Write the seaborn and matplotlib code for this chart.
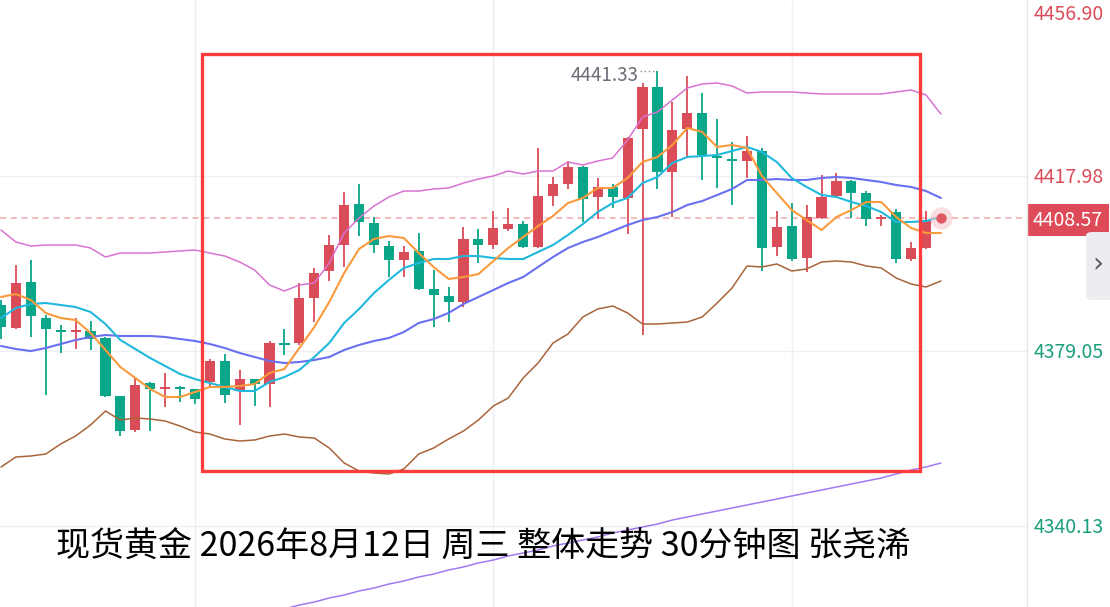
import numpy as np
import pandas as pd
import matplotlib
matplotlib.use("Agg")
import matplotlib.pyplot as plt
import matplotlib.transforms as mtransforms
from matplotlib.patches import Rectangle, FancyBboxPatch
from matplotlib.lines import Line2D
import seaborn as sns

# K线数据 (30分钟) : 开, 高, 低, 收
opens = [4389.29, 4384.17, 4394.40, 4386.39, 4383.72, 4383.28, 4383.50, 4381.95, 4369.04, 4361.48,
         4371.93, 4370.60, 4371.05, 4370.60, 4372.16, 4376.83, 4370.16, 4372.82, 4371.71, 4380.83,
         4380.83, 4390.84, 4396.85, 4402.63, 4411.75, 4407.53, 4402.41, 4399.30, 4401.30, 4392.84,
         4391.29, 4389.95, 4403.97, 4402.63, 4406.19, 4407.30, 4402.19, 4413.53, 4416.20, 4419.98,
         4413.31, 4415.54, 4413.09, 4428.44, 4437.78, 4418.87, 4428.44, 4431.99, 4422.43, 4421.76,
         4421.32, 4423.54, 4402.19, 4406.86, 4399.74, 4408.64, 4413.53, 4416.87, 4414.20, 4408.42,
         4409.97, 4399.52, 4401.96, 4408.19]
highs = [4390.40, 4398.18, 4399.30, 4387.06, 4384.84, 4386.39, 4385.73, 4382.17, 4369.10, 4373.05,
         4372.16, 4374.16, 4371.20, 4370.70, 4377.27, 4378.39, 4374.83, 4372.90, 4381.28, 4383.95,
         4394.18, 4397.52, 4404.86, 4414.42, 4416.20, 4408.86, 4403.52, 4402.41, 4405.30, 4397.07,
         4393.29, 4406.64, 4406.19, 4410.19, 4410.86, 4407.97, 4424.21, 4417.76, 4421.32, 4420.20,
         4417.54, 4416.20, 4426.60, 4438.67, 4441.33, 4434.44, 4440.22, 4436.44, 4430.66, 4425.54,
         4426.88, 4424.21, 4410.19, 4411.98, 4411.53, 4418.20, 4418.65, 4417.00, 4414.64, 4409.31,
         4410.64, 4403.30, 4410.19, 4408.80]
lows = [4381.72, 4384.00, 4382.17, 4369.27, 4378.61, 4379.50, 4379.28, 4368.90, 4360.15, 4361.04,
        4361.26, 4366.60, 4367.71, 4367.26, 4371.27, 4367.49, 4362.59, 4366.82, 4366.60, 4378.16,
        4380.39, 4385.50, 4394.62, 4397.74, 4404.63, 4400.85, 4395.51, 4395.51, 4392.62, 4384.39,
        4385.50, 4388.84, 4398.63, 4401.74, 4405.75, 4401.96, 4402.00, 4411.31, 4415.09, 4407.75,
        4408.42, 4410.86, 4405.08, 4382.61, 4415.09, 4408.86, 4421.99, 4417.09, 4415.31, 4411.53,
        4417.54, 4396.85, 4400.18, 4399.07, 4396.63, 4408.42, 4413.40, 4408.64, 4406.86, 4406.86,
        4398.63, 4399.07, 4401.80, 4408.10]
closes = [4384.39, 4394.18, 4386.84, 4383.95, 4383.28, 4383.50, 4381.72, 4369.04, 4361.26, 4371.49,
          4370.60, 4370.82, 4370.60, 4368.38, 4376.83, 4369.27, 4372.82, 4371.71, 4380.83, 4380.39,
          4390.84, 4396.40, 4402.63, 4411.53, 4407.75, 4402.63, 4399.30, 4401.08, 4392.84, 4391.51,
          4389.95, 4403.97, 4402.63, 4406.41, 4407.30, 4402.19, 4413.53, 4416.20, 4419.98, 4412.86,
          4415.54, 4413.31, 4426.43, 4437.78, 4418.87, 4428.21, 4431.99, 4422.65, 4421.98, 4421.32,
          4423.54, 4401.96, 4406.64, 4399.52, 4408.86, 4413.31, 4416.87, 4414.20, 4408.42, 4408.64,
          4399.52, 4401.96, 4408.19, 4408.57]

# 均线与布林带
ma5 = [4391.07, 4391.73, 4390.40, 4387.51, 4386.39, 4385.95, 4383.06, 4379.28, 4375.50, 4373.05,
       4370.60, 4368.82, 4368.82, 4369.93, 4371.05, 4371.05, 4371.27, 4371.71, 4374.16, 4375.05,
       4379.72, 4384.39, 4389.95, 4396.40, 4401.74, 4403.97, 4404.63, 4404.19, 4400.85, 4397.74,
       4395.07, 4395.51, 4396.18, 4399.07, 4401.96, 4404.41, 4406.86, 4409.08, 4411.97, 4413.09,
       4415.31, 4415.31, 4417.54, 4421.09, 4422.21, 4424.88, 4428.66, 4427.77, 4424.43, 4424.88,
       4424.21, 4417.98, 4414.20, 4410.42, 4408.19, 4405.97, 4408.86, 4410.42, 4412.20, 4412.20,
       4408.86, 4406.41, 4405.30, 4405.30]
ma10 = [4386.39, 4388.62, 4389.51, 4389.73, 4389.29, 4388.84, 4387.73, 4385.06, 4381.50, 4379.50,
        4377.49, 4375.72, 4373.94, 4372.82, 4371.93, 4371.05, 4370.16, 4370.16, 4372.16, 4373.27,
        4374.83, 4377.72, 4380.83, 4385.28, 4388.40, 4391.96, 4394.85, 4397.52, 4398.63, 4399.52,
        4399.52, 4400.18, 4400.18, 4399.74, 4399.52, 4399.52, 4401.08, 4402.63, 4404.86, 4407.30,
        4409.97, 4411.97, 4413.09, 4416.42, 4417.76, 4420.87, 4422.21, 4422.43, 4422.65, 4423.54,
        4424.43, 4423.32, 4421.09, 4417.54, 4415.54, 4413.75, 4413.31, 4412.20, 4411.31, 4409.97,
        4407.75, 4407.75, 4407.97, 4408.86]
ma20 = [4380.17, 4379.50, 4379.05, 4379.72, 4380.61, 4381.50, 4382.17, 4382.61, 4382.39, 4382.39,
        4382.39, 4382.17, 4381.72, 4381.28, 4380.61, 4379.72, 4378.61, 4377.72, 4376.83, 4376.38,
        4376.61, 4377.05, 4377.72, 4379.28, 4380.39, 4381.28, 4381.95, 4383.28, 4385.28, 4386.17,
        4387.51, 4389.51, 4391.07, 4392.62, 4394.18, 4395.51, 4397.74, 4399.96, 4401.96, 4403.30,
        4404.41, 4405.75, 4407.08, 4408.19, 4408.86, 4409.97, 4411.53, 4412.42, 4413.75, 4415.09,
        4417.09, 4417.09, 4417.31, 4417.09, 4417.09, 4417.54, 4417.76, 4417.54, 4417.09, 4416.65,
        4415.98, 4415.54, 4414.64, 4413.09]
boll_up = [4405.97, 4403.30, 4402.41, 4402.63, 4402.63, 4402.63, 4401.96, 4399.96, 4400.85, 4400.85,
           4400.85, 4401.08, 4401.30, 4401.52, 4400.85, 4400.18, 4398.85, 4397.07, 4393.73, 4392.40,
           4393.73, 4394.18, 4398.63, 4405.30, 4408.64, 4411.31, 4413.31, 4414.64, 4414.64, 4415.09,
           4415.31, 4416.42, 4417.31, 4417.98, 4419.09, 4418.42, 4419.09, 4419.09, 4421.09, 4420.43,
           4421.32, 4421.99, 4425.99, 4431.10, 4432.22, 4434.89, 4437.56, 4438.45, 4438.67, 4438.00,
           4436.44, 4436.67, 4436.67, 4436.67, 4436.44, 4436.22, 4436.22, 4436.22, 4436.22, 4436.22,
           4436.67, 4437.11, 4436.00, 4431.77]
boll_dn = [4353.25, 4355.48, 4355.70, 4356.14, 4358.37, 4360.15, 4362.59, 4365.70, 4363.70, 4364.15,
           4363.93, 4363.48, 4362.37, 4361.04, 4360.59, 4359.48, 4359.03, 4359.26, 4360.15, 4360.59,
           4359.92, 4359.70, 4357.48, 4354.14, 4352.36, 4351.92, 4351.69, 4352.81, 4356.14, 4357.48,
           4359.48, 4361.26, 4363.70, 4366.82, 4368.60, 4373.05, 4376.38, 4380.83, 4382.83, 4386.62,
           4388.40, 4389.06, 4387.51, 4385.06, 4385.06, 4385.28, 4385.50, 4386.62, 4389.73, 4393.07,
           4397.96, 4397.74, 4398.41, 4396.85, 4397.30, 4398.85, 4399.07, 4398.85, 4397.96, 4397.52,
           4395.29, 4393.96, 4393.29, 4394.63]
# 长周期均线, 从第19根K线开始可见
ma_long_start = 19
ma_long = [4321.66, 4322.55, 4323.22, 4324.11, 4324.78, 4325.67, 4326.33, 4327.22, 4327.89, 4328.78,
           4329.45, 4330.34, 4331.01, 4331.90, 4332.56, 4333.45, 4334.12, 4334.79, 4335.68, 4336.34,
           4337.01, 4337.68, 4338.57, 4339.24, 4339.90, 4340.57, 4341.46, 4342.13, 4342.80, 4343.46,
           4344.13, 4344.80, 4345.47, 4346.13, 4346.80, 4347.47, 4348.13, 4348.80, 4349.47, 4350.14,
           4350.80, 4351.69, 4352.58, 4353.25, 4354.14]

price_ticks = [4456.90, 4417.98, 4379.05, 4340.13]
last_price = 4408.57
high_mark = 4441.33
high_idx = 44
grid_x = [13, 33, 53]
title = "现货黄金 2026年8月12日 周三 整体走势 30分钟图 张尧浠"

RED = "#db4c59"
GREEN = "#0aa68a"

df = pd.DataFrame({"open": opens, "high": highs, "low": lows, "close": closes,
                   "ma5": ma5, "ma10": ma10, "ma20": ma20,
                   "up": boll_up, "dn": boll_dn})
df["idx"] = np.arange(len(df))

sns.set_style("white")
plt.rcParams["font.family"] = ["Noto Sans CJK SC", "DejaVu Sans"]

fig = plt.figure(figsize=(11.1, 6.07), dpi=100)
W, H = 1110, 607
ax = fig.add_axes([0, 0, 1027 / W, 1])
ax.set_xlim(-0.067, 68.77)
ax.set_ylim(4322.11, 4457.13)

# grille
for p in price_ticks[1:]:
    ax.axhline(p, color="#eeeef3", lw=1.0, zorder=0)
for gx in grid_x:
    ax.axvline(gx, color="#eeeef3", lw=1.0, zorder=0)

# ligne du dernier prix
ax.axhline(last_price, color="#f3a7ae", lw=1.1, ls=(0, (4, 3)), zorder=1)

# bougies
rise = df["close"] >= df["open"]
cols = np.where(rise, RED, GREEN)
ax.vlines(df["idx"], df["low"], df["high"], colors=cols, lw=1.3, zorder=2)
body_lo = np.minimum(df["open"], df["close"])
body_h = np.maximum((df["close"] - df["open"]).abs(), 0.35)
ax.bar(df["idx"], body_h, bottom=body_lo, width=0.68, color=cols, lw=0, zorder=2)

# moyennes mobiles et bandes
line_specs = [("up", "#d973d1", 1.1), ("dn", "#a8643a", 1.1),
              ("ma20", "#6a70f0", 1.5), ("ma10", "#20b8dc", 1.5), ("ma5", "#fb9a3d", 1.5)]
for col, c, lw in line_specs:
    sns.lineplot(data=df, x="idx", y=col, ax=ax, color=c, linewidth=lw,
                 sort=False, estimator=None, legend=False, zorder=3)
long_x = np.arange(ma_long_start, ma_long_start + len(ma_long))
sns.lineplot(x=long_x, y=ma_long, ax=ax, color="#a07af0", linewidth=1.1,
             sort=False, estimator=None, legend=False, zorder=3)

# point du dernier prix
last_i = df["idx"].iloc[-1]
ax.scatter([last_i], [last_price], s=260, color="#f6c9cd", alpha=0.6, lw=0, zorder=4)
ax.scatter([last_i], [last_price], s=55, color="#e05864", lw=0, zorder=5)

# plus haut
ax.plot([high_idx - 1.15, high_idx], [high_mark, high_mark], color="#8a8d96",
        lw=1.0, ls=(0, (1, 2)), zorder=4)
ax.text(high_idx - 1.3, high_mark - 1.0, f"{high_mark:.2f}", ha="right", va="center",
        fontsize=13.5, color="#6b6e78")

ax.set_xticks([])
ax.set_yticks([])
ax.set_xlabel("")
ax.set_ylabel("")
for s in ax.spines.values():
    s.set_visible(False)

# axe des prix à droite
fig.add_artist(Line2D([1027 / W, 1027 / W], [0, 1], color="#e6e6ec", lw=1.0))
trans = mtransforms.blended_transform_factory(fig.transFigure, ax.transData)
lab_fs = 14
for p in price_ticks:
    c = RED if p > last_price else "#1a9f7d"
    if p == price_ticks[0]:
        fig.text(1034 / W, 1 - 15 / H, f"{p:.2f}", color=c, fontsize=lab_fs,
                 ha="left", va="center")
    else:
        ax.text(1034 / W, p - 0.4, f"{p:.2f}", color=c, fontsize=lab_fs, ha="left",
                va="center", transform=trans, clip_on=False)
ax.text(1033 / W, last_price - 0.4, f"{last_price:.2f}", color="white", fontsize=lab_fs,
        ha="left", va="center", transform=trans, clip_on=False,
        bbox=dict(boxstyle="square,pad=0.3", fc="#dd4b58", ec="none"))

# bouton
btn = FancyBboxPatch((1086 / W, 1 - 300 / H), 40 / W, 68 / H,
                     boxstyle="round,pad=0,rounding_size=0.006",
                     transform=fig.transFigure, fc="#ececf1", ec="none", zorder=5)
fig.add_artist(btn)
fig.text(1098 / W, 1 - 264 / H, "›", fontsize=20, color="#5b5f6b",
         ha="center", va="center", family="DejaVu Sans", zorder=6)

# cadre rouge
fig.add_artist(Rectangle((202 / W, 1 - 471 / H), 718 / W, 417 / H, fill=False,
                         ec="#fb3d3d", lw=2.4, transform=fig.transFigure, zorder=6))

# titre
fig.text(483 / W, 1 - 547 / H, title, fontsize=24.5, color="black",
         ha="center", va="center")

fig.savefig("out.png", dpi=100)
